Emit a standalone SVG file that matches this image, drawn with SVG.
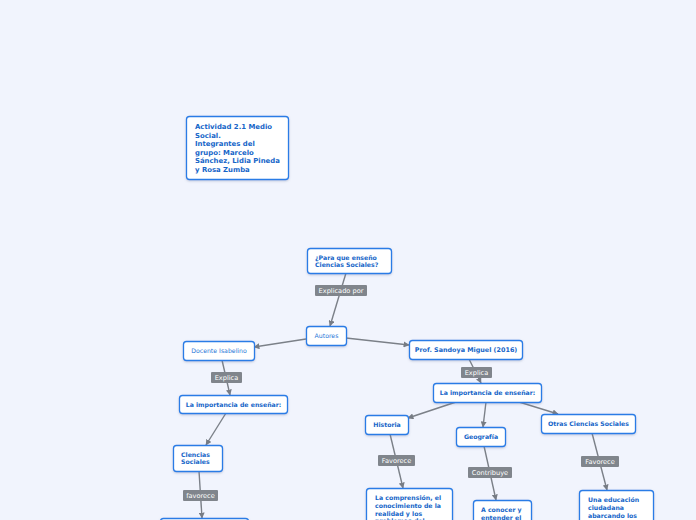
<svg xmlns="http://www.w3.org/2000/svg" width="696" height="520" viewBox="0 0 696 520">
<defs>
<filter id="sh" x="-20%" y="-20%" width="140%" height="150%">
<feDropShadow dx="0" dy="1" stdDeviation="1" flood-color="#6a7a9a" flood-opacity="0.35"/>
</filter>
<marker id="ar" viewBox="0 0 10 10" refX="9" refY="5" markerWidth="6" markerHeight="6" orient="auto" markerUnits="userSpaceOnUse">
<path d="M0,0 L10,5 L0,10 z" fill="#777c84"/>
</marker>
<style>
.n{fill:#fff;stroke:#2a7ce6;stroke-width:1.3;filter:url(#sh)}
.t{font-family:"DejaVu Sans",Verdana,sans-serif;font-size:6.9px;font-weight:bold;fill:#1565c8}
.tl{font-family:"DejaVu Sans",Verdana,sans-serif;font-size:6.2px;fill:#2a78d8}
.c{stroke:#7b8088;stroke-width:1.4;fill:none;marker-end:url(#ar)}
.lb{fill:#80858c}
.lt{font-family:"DejaVu Sans",Verdana,sans-serif;font-size:6.6px;fill:#fff;text-anchor:middle}
.m{text-anchor:middle}
</style>
</defs>
<rect width="696" height="520" fill="#f1f4fd"/>
<g id="connectors">
<line class="c" x1="346" y1="273" x2="330" y2="326"/>
<line class="c" x1="306" y1="339" x2="254" y2="347"/>
<line class="c" x1="346" y1="338" x2="409" y2="345"/>
<line class="c" x1="222" y1="360" x2="230" y2="395"/>
<line class="c" x1="226" y1="413" x2="206" y2="445"/>
<line class="c" x1="199" y1="471" x2="202" y2="518"/>
<line class="c" x1="469" y1="359" x2="481" y2="383"/>
<line class="c" x1="456" y1="402" x2="408" y2="418"/>
<line class="c" x1="486" y1="402" x2="483" y2="427"/>
<line class="c" x1="519" y1="402" x2="558" y2="414"/>
<line class="c" x1="390" y1="434" x2="403" y2="488"/>
<line class="c" x1="484" y1="446" x2="496" y2="500"/>
<line class="c" x1="592" y1="433" x2="607" y2="490"/>
<rect class="lb" x="315" y="285" width="52" height="11" rx="1"/><text class="lt" x="341" y="292.8">Explicado por</text>
<rect class="lb" x="211" y="372" width="31" height="11" rx="1"/><text class="lt" x="226.5" y="379.8">Explica</text>
<rect class="lb" x="183" y="490" width="35" height="11" rx="1"/><text class="lt" x="200.5" y="497.8">favorece</text>
<rect class="lb" x="461" y="367" width="31" height="11" rx="1"/><text class="lt" x="476.5" y="374.8">Explica</text>
<rect class="lb" x="378" y="455" width="37" height="11" rx="1"/><text class="lt" x="396.5" y="462.8">Favorece</text>
<rect class="lb" x="468" y="467" width="44" height="11" rx="1"/><text class="lt" x="490" y="474.8">Contribuye</text>
<rect class="lb" x="581" y="456" width="38" height="11" rx="1"/><text class="lt" x="600" y="463.8">Favorece</text>
</g>
<g id="actividad">
<rect class="n" x="186.5" y="116.5" width="102" height="63" rx="3"/>
<text class="t" x="195" y="129">Actividad 2.1 Medio</text>
<text class="t" x="195" y="137.5">Social.</text>
<text class="t" x="195" y="146">Integrantes del</text>
<text class="t" x="195" y="154.5">grupo:  Marcelo</text>
<text class="t" x="195" y="163">Sánchez, Lidia Pineda</text>
<text class="t" x="195" y="171.5">y Rosa Zumba</text>
</g>
<g id="para">
<rect class="n" x="307.5" y="248.5" width="84" height="25" rx="3"/>
<text class="t" x="315" y="259.5" style="font-size:6.2px">¿Para que enseño</text>
<text class="t" x="315" y="267" style="font-size:6.2px">Ciencias Sociales?</text>
</g>
<g id="autores">
<rect class="n" x="306.5" y="326.5" width="40" height="19" rx="3"/>
<text class="tl m" x="326.5" y="338.3">Autores</text>
</g>
<g id="docente">
<rect class="n" x="183.5" y="341.5" width="71" height="19" rx="3"/>
<text class="tl m" x="219" y="353.3">Docente Isabelino</text>
</g>
<g id="importancia1">
<rect class="n" x="179.5" y="395.5" width="108" height="18" rx="3"/>
<text class="t m" x="233.5" y="406.5" style="font-size:6.2px">La importancia de enseñar:</text>
</g>
<g id="ciencias">
<rect class="n" x="173.5" y="445.5" width="49" height="26" rx="3"/>
<text class="t" x="181" y="456.5" style="font-size:6.2px">Clencias</text>
<text class="t" x="181" y="464" style="font-size:6.2px">Sociales</text>
</g>
<g id="bottomleft">
<rect class="n" x="160.5" y="518.5" width="88" height="20" rx="3"/>
</g>
<g id="sandoya">
<rect class="n" x="409.5" y="340.5" width="113" height="19" rx="3"/>
<text class="t m" x="466" y="352" style="font-size:6.4px">Prof. Sandoya Miguel (2016)</text>
</g>
<g id="importancia2">
<rect class="n" x="433.5" y="383.5" width="108" height="19" rx="3"/>
<text class="t m" x="487.5" y="395" style="font-size:6.2px">La importancia de enseñar:</text>
</g>
<g id="historia">
<rect class="n" x="365.5" y="415.5" width="43" height="19" rx="3"/>
<text class="t m" x="387" y="427" style="font-size:6.2px">Historia</text>
</g>
<g id="geografia">
<rect class="n" x="456.5" y="427.5" width="49" height="19" rx="3"/>
<text class="t m" x="481" y="439" style="font-size:6.2px">Geografía</text>
</g>
<g id="otras">
<rect class="n" x="541.5" y="414.5" width="94" height="19" rx="3"/>
<text class="t m" x="588.5" y="426" style="font-size:6.2px">Otras Ciencias Sociales</text>
</g>
<g id="comprension">
<rect class="n" x="366.5" y="488.5" width="86" height="45" rx="3"/>
<text class="t" x="375" y="499.5" style="font-size:6.2px">La comprensión,   el</text>
<text class="t" x="375" y="507.5" style="font-size:6.2px">conocimiento de la</text>
<text class="t" x="375" y="515.5" style="font-size:6.2px">realidad y los</text>
<text class="t" x="375" y="522.8" style="font-size:6.2px">problemas del</text>
</g>
<g id="conocer">
<rect class="n" x="473.5" y="500.5" width="58" height="30" rx="3"/>
<text class="t" x="481" y="511.5" style="font-size:6.2px">A conocer y</text>
<text class="t" x="481" y="519.5" style="font-size:6.2px">entender el</text>
</g>
<g id="educacion">
<rect class="n" x="579.5" y="490.5" width="74" height="45" rx="3"/>
<text class="t" x="588" y="501.5" style="font-size:6.2px">Una educación</text>
<text class="t" x="588" y="509.5" style="font-size:6.2px">ciudadana</text>
<text class="t" x="588" y="517.5" style="font-size:6.2px">abarcando los</text>
</g>
</svg>
